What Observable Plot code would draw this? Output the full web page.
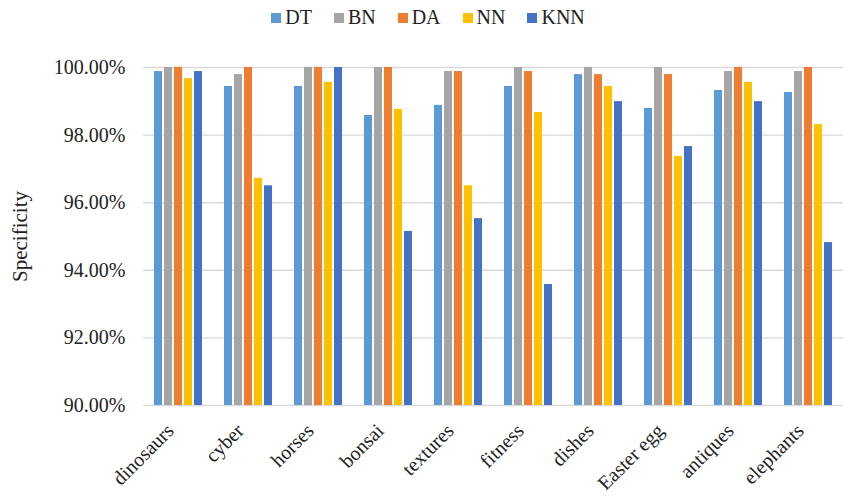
<!DOCTYPE html>
<html>
<head>
<meta charset="utf-8">
<script src="https://cdn.jsdelivr.net/npm/d3@7"></script>
<script src="https://cdn.jsdelivr.net/npm/@observablehq/plot@0.6"></script>
<style>
  body { margin: 0; background: #fff; font-family: "Liberation Serif", "DejaVu Serif", serif; }
  #legend { height: 35px; display: flex; justify-content: center; align-items: center; gap: 22px; font-size: 20px; color: #222; padding-left: 10px; box-sizing: border-box; }
  #legend .item { display: flex; align-items: center; gap: 4px; }
  #legend .sw { width: 10px; height: 10px; display: inline-block; }
</style>
</head>
<body>
<div id="legend"></div>
<div id="chart"></div>
<script>
const categories = ["dinosaurs", "cyber", "horses", "bonsai", "textures", "fitness", "dishes", "Easter egg", "antiques", "elephants"];
const models = ["DT", "BN", "DA", "NN", "KNN"];
const colors = ["#5B9BD5", "#A5A5A5", "#ED7D31", "#FFC000", "#4472C4"];
const DT  = [99.88, 99.44, 99.44, 98.58, 98.88, 99.44, 99.79, 98.79, 99.32, 99.26];
const BN  = [100.00, 99.79, 100.00, 100.00, 99.88, 100.00, 100.00, 100.00, 99.88, 99.88];
const DA  = [100.00, 100.00, 100.00, 100.00, 99.88, 99.88, 99.79, 99.79, 100.00, 100.00];
const NN  = [99.67, 96.72, 99.56, 98.76, 96.50, 98.67, 99.44, 97.37, 99.56, 98.31];
const KNN = [99.88, 96.50, 100.00, 95.15, 95.53, 93.58, 98.99, 97.66, 98.99, 94.82];
const yTicks = [90, 92, 94, 96, 98, 100];

const series = {DT, BN, DA, NN, KNN};
const data = [];
categories.forEach((c, i) => models.forEach(m => data.push({cat: c, model: m, value: series[m][i]})));

// legend
const lg = document.getElementById("legend");
models.forEach((m, i) => {
  const it = document.createElement("span"); it.className = "item";
  const sw = document.createElement("span"); sw.className = "sw"; sw.style.background = colors[i];
  const tx = document.createElement("span"); tx.textContent = m;
  it.appendChild(sw); it.appendChild(tx); lg.appendChild(it);
});

const chart = Plot.plot({
  width: 846,
  height: 464,
  marginTop: 32,
  marginBottom: 94,
  marginLeft: 140,
  marginRight: 0,
  style: {fontFamily: "Liberation Serif, serif", fontSize: "20px", color: "#222", background: "#fff"},
  fx: {domain: categories, paddingInner: 0.28, paddingOuter: 0.14, axis: null},
  x: {domain: models, axis: null, paddingInner: 0.2, paddingOuter: 0},
  y: {domain: [90, 100], axis: null},
  color: {domain: models, range: colors},
  marks: [
    Plot.ruleY(yTicks, {stroke: "#d9d9d9", strokeWidth: 1.4, insetLeft: -9.9, insetRight: -9.9}),
    Plot.barY(data, {fx: "cat", x: "model", y1: () => 90, y2: "value", fill: "model"}),
    Plot.axisFx({anchor: "bottom", tickRotate: -45, tickSize: 0, tickPadding: 22, dx: -8, label: null}),
    Plot.axisY({ticks: yTicks, tickFormat: d => d.toFixed(2) + "%", tickSize: 0, tickPadding: 28, label: null}),
    Plot.axisY({ticks: [], label: "Specificity", labelAnchor: "center", labelArrow: "none", labelOffset: 141, fontSize: 21})
  ]
});
document.getElementById("chart").appendChild(chart);
</script>
</body>
</html>
